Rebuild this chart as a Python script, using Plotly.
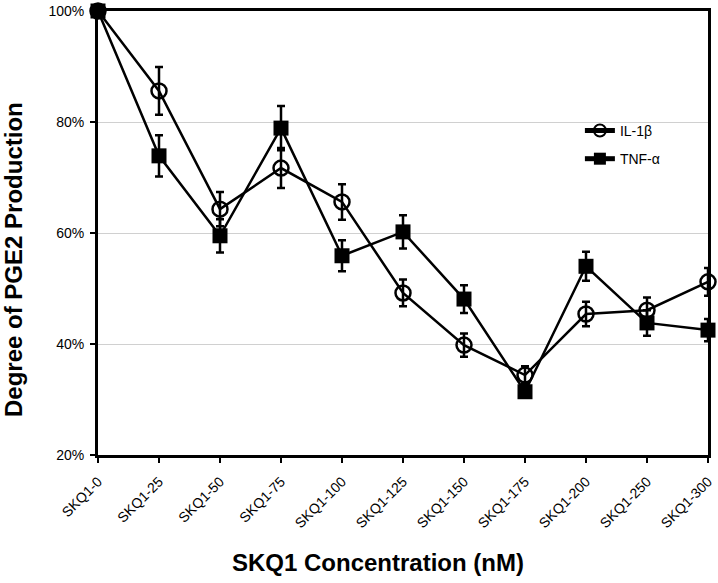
import plotly.graph_objects as go

# concentraciones (categorías del eje x)
categorias = ["SKQ1-0", "SKQ1-25", "SKQ1-50", "SKQ1-75", "SKQ1-100", "SKQ1-125",
              "SKQ1-150", "SKQ1-175", "SKQ1-200", "SKQ1-250", "SKQ1-300"]

# valores (%)
il1b = [100, 85.6, 64.3, 71.7, 65.6, 49.2, 39.8, 34.4, 45.4, 46.1, 51.2]
il1b_err = [0, 4.3, 3.1, 3.6, 3.2, 2.4, 2.1, 1.6, 2.2, 2.3, 2.5]

tnfa = [100, 73.9, 59.5, 78.9, 55.9, 60.2, 48.1, 31.4, 54.0, 43.8, 42.5]
tnfa_err = [0, 3.7, 3.0, 4.0, 2.8, 3.0, 2.5, 1.0, 2.6, 2.3, 2.0]

y_ticks = [20, 40, 60, 80, 100]
y_labels = [f"{v}%" for v in y_ticks]

fig = go.Figure()

fig.add_trace(go.Scatter(
    x=categorias,
    y=il1b,
    error_y=dict(type='data', array=il1b_err, color='black', thickness=2.5, width=4),
    mode='lines+markers',
    name='IL-1β',
    legendgroup='il1b',
    line=dict(color='black', width=2.5),
    marker=dict(symbol='circle-open', size=15, color='black', line=dict(width=2.5)),
    cliponaxis=False
))

fig.add_trace(go.Scatter(
    x=categorias,
    y=tnfa,
    error_y=dict(type='data', array=tnfa_err, color='black', thickness=2.5, width=4),
    mode='lines+markers',
    name='TNF-α',
    legendgroup='tnfa',
    line=dict(color='black', width=2.5),
    marker=dict(symbol='square', size=15, color='black'),
    cliponaxis=False
))

# títulos de ejes como anotaciones (no están centrados en el área del gráfico)
fig.add_annotation(
    text="<b>SKQ1 Concentration (nM)</b>", xref='paper', yref='paper',
    x=(378 - 98) / 610, y=-(562 - 455) / 444, xanchor='center', yanchor='middle',
    showarrow=False, font=dict(size=24)
)
fig.add_annotation(
    text="<b>Degree of PGE2 Production</b>", xref='paper', yref='paper',
    x=-(98 - 13) / 610, y=(455 - 260) / 444, xanchor='center', yanchor='middle',
    textangle=-90, showarrow=False, font=dict(size=24)
)

fig.update_layout(
    width=718,
    height=583,
    margin=dict(l=98, r=10, t=11, b=128),
    paper_bgcolor='white',
    plot_bgcolor='white',
    font=dict(family="Liberation Sans, Arial, sans-serif", color='black'),
    showlegend=True,
    legend=dict(
        x=0.79, y=0.766, xanchor='left', yanchor='top',
        bgcolor='rgba(0,0,0,0)',
        font=dict(size=14),
        traceorder='grouped',
        tracegroupgap=7,
        itemsizing='constant'
    ),
    xaxis=dict(
        type='category',
        range=[0, 10],
        automargin=False,
        showline=True, linecolor='black', linewidth=3, mirror=True,
        ticks='outside', ticklen=5, tickwidth=2, tickcolor='black',
        tickangle=-45,
        tickfont=dict(size=14),
        ticklabelstandoff=5,
        showgrid=False
    ),
    yaxis=dict(
        range=[20, 100],
        tickvals=y_ticks,
        ticktext=y_labels,
        automargin=False,
        showline=True, linecolor='black', linewidth=3, mirror=True,
        ticks='outside', ticklen=5, tickwidth=2, tickcolor='black',
        tickfont=dict(size=14),
        ticklabelstandoff=3,
        showgrid=True, gridcolor='#d0d0d0', gridwidth=1,
        zeroline=False
    )
)

# quitar el margen por defecto del <body> para que la figura quede en (0, 0)
fig.write_html("out.html", config={'displayModeBar': False},
               post_script="document.body.style.margin='0';")
